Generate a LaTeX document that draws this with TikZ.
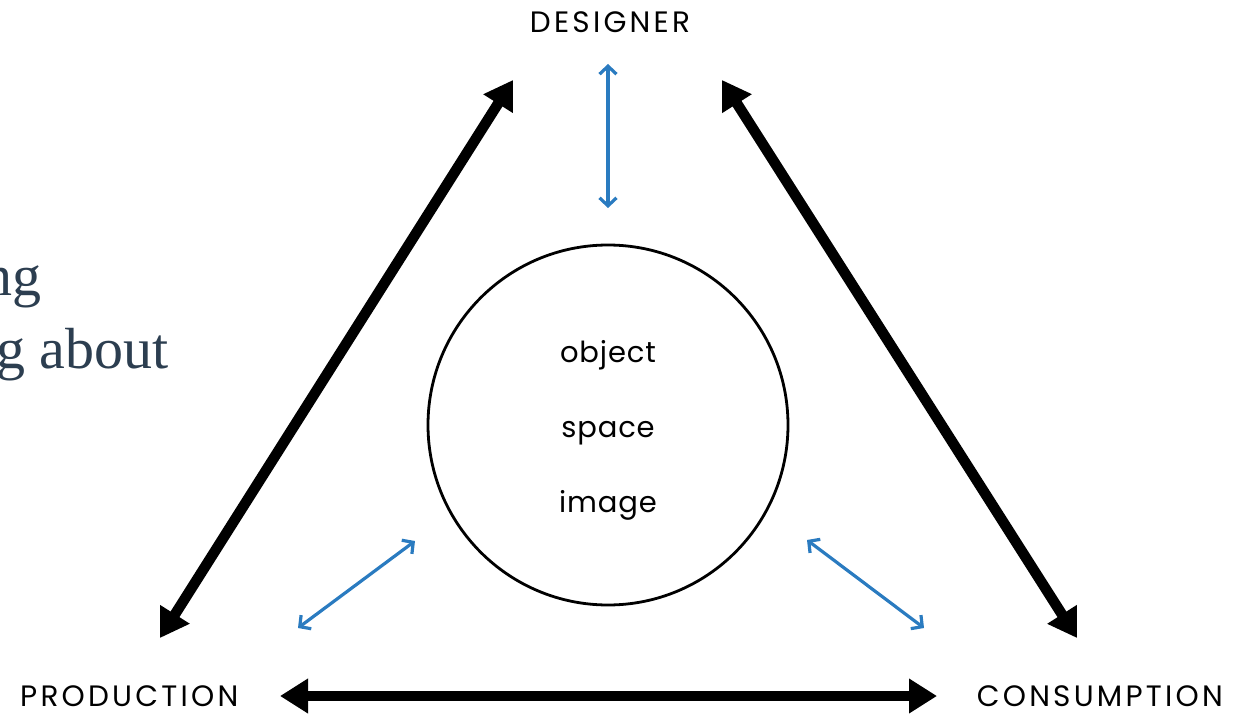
\documentclass[tikz,border=0pt]{standalone}
\usepackage{fontspec}
\setsansfont{Poppins}
\newfontfamily\sideserif{Liberation Serif}
\newfontfamily\labelfont[LetterSpace=11]{Poppins}
\newfontfamily\innerfont[LetterSpace=3]{Poppins}
\usetikzlibrary{arrows.meta}
\definecolor{flowblue}{HTML}{2A7BC0}
\definecolor{slateink}{HTML}{2C3E50}
\begin{document}
\begin{tikzpicture}[x=1pt,y=-1pt,
  label/.style={font=\labelfont\fontsize{29.5}{29.5}\selectfont, inner sep=0pt},
  inner/.style={font=\innerfont\fontsize{29}{29}\selectfont, inner sep=0pt, anchor=base},
  bigarrow/.style={line width=10.5pt, {Triangle[length=28pt,width=33pt]}-{Triangle[length=28pt,width=33pt]}},
  thinarrow/.style={flowblue, line width=3.2pt, {Straight Barb[length=8pt,width=17pt]}-{Straight Barb[length=8pt,width=17pt]}},
  sidetext/.style={font=\sideserif\fontsize{58}{58}\selectfont, text=slateink, inner sep=0pt}]
\useasboundingbox (0,0) rectangle (1242,714);

% labels at the three corners
\node[label, anchor=base] (designer) at (610,33) {DESIGNER};
\node[label, anchor=base west] (production) at (20,706) {PRODUCTION};
\node[label, anchor=base east] (consumption) at (1223,706) {CONSUMPTION};

% central circle with its three words
\node[draw, line width=2.8pt, circle, minimum size=360pt, inner sep=0pt] (core) at (608,425) {};
\node[inner] (object) at (608,362) {object};
\node[inner] (space) at (608,437) {space};
\node[inner] (image) at (608,512) {image};

% text running in from the left edge
\node[sidetext, anchor=base east] (lineA) at (42,295) {ng};
\node[sidetext, anchor=base east] (lineB) at (169,368) {g about};

% end points of the connectors
\coordinate (pl) at (160,638);
\coordinate (pt) at (513,80);
\coordinate (ct) at (722,80);
\coordinate (cr) at (1077,638);
\coordinate (bl) at (280,696);
\coordinate (br) at (937,696);
\coordinate (vt) at (608,64);
\coordinate (vb) at (608,208);
\coordinate (lt) at (415,541);
\coordinate (lb) at (298,628);
\coordinate (rt) at (807,540);
\coordinate (rb) at (924,628);

% heavy connectors of the outer triangle
\draw[bigarrow] (pl) -- (pt);
\draw[bigarrow] (ct) -- (cr);
\draw[bigarrow] (bl) -- (br);

% light connectors toward the circle
\draw[thinarrow] (vt) -- (vb);
\draw[thinarrow] (lt) -- (lb);
\draw[thinarrow] (rt) -- (rb);
\end{tikzpicture}
\end{document}
